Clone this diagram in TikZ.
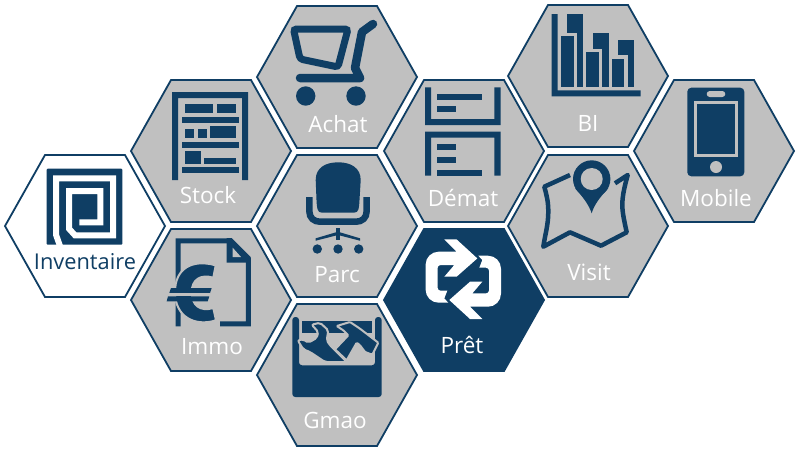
\documentclass[tikz,border=0pt]{standalone}
\usepackage{fontspec}
\setmainfont{Open Sans}
\definecolor{navy}{RGB}{15,62,100}
\definecolor{hopea}{RGB}{192,192,192}
\tikzset{
  kenno/.style={draw=navy,line width=1.8pt,fill=hopea},
  nimi/.style={text=white,inner sep=0pt,font=\fontsize{22.5}{26}\selectfont},
  ikoni/.style={fill=navy},
  viiva/.style={draw=navy,line width=#1},
  kehys/.style={fill=navy,draw=hopea,line width=2pt}
}
\begin{document}
\begin{tikzpicture}[x=1pt,y=-1pt]
\newcommand\alveole[3]{
\draw[kenno,#3,shift={(#1,#2)}] (-80,0) -- (-40,-71) -- (40,-71) -- (80,0) -- (40,71) -- (-40,71) -- cycle;
}
\useasboundingbox (0,0) rectangle (800,451);
\alveole{85}{226}{fill=white}
\alveole{211}{151}{}
\alveole{211}{300}{}
\alveole{337}{77}{}
\alveole{337}{226}{}
\alveole{337}{375}{}
\alveole{464}{151}{}
\alveole{464}{300}{fill=navy}
\alveole{588}{76}{}
\alveole{588}{226}{}
\alveole{714}{151}{}
% Inventaire
\fill[ikoni,rounded corners=1pt] (46.7,168.7) rectangle (122.3,244.7);
\draw[white,line width=6pt,miter limit=4] (60,246) -- (56,234.7) -- (56,178.3) -- (113,178.3) -- (113,235.3) -- (75,235.3) -- (69,228.7) -- (69,191) -- (100.3,191) -- (100.3,222.3) -- (79.3,222.3);
\node[nimi,text=navy,font=\fontsize{21.8}{26}\selectfont] (inventaire) at (85,262) {Inventaire};
% Stock
\fill[ikoni] (172,180) -- (172,92) -- (248,92) -- (248,180) -- (242,180) -- (242,98) -- (178,98) -- (178,180) -- cycle;
\foreach \xa/\ya/\xb/\yb in {185/104/213/113,217/104/236/113,182/117/239/123,185/129/194/138,198/129/207/138,210/126/236/138,182/142/239/148,185/151/201/164,204/158/236/164,182/167/239/173}
  \fill[ikoni] (\xa,\ya) rectangle (\xb,\yb);
\node[nimi] (stock) at (208,195) {Stock};
% Immo
\draw[viiva=5pt] (178.2,326.3) -- (178.2,240.8) -- (229.3,240.8) -- (248.3,259) -- (248.3,323.8) -- (220,323.8);
\fill[ikoni] (226.7,238) -- (231.7,238) -- (250.7,257) -- (250.7,262.7) -- (226.7,262.7) -- cycle;
\fill[hopea] (232.7,247.7) -- (241,257) -- (232.7,257) -- cycle;
\draw[kehys] (215.7,265.3) .. controls (191.7,258.7) and (175,268.7) .. (175,292) .. controls (175,317) and (195,327) .. (216,320.3) -- (213.3,308) .. controls (200,312) and (191.7,305.3) .. (191.7,292) .. controls (191.7,280.3) and (200,273.7) .. (213.3,277.7) -- cycle;
\fill[ikoni] (171,288) -- (211.7,288) -- (210,293) -- (169.3,293) -- cycle;
\fill[ikoni] (168,296.3) -- (209.3,296.3) -- (207.7,301.3) -- (166.7,301.3) -- cycle;
\fill[hopea] (169,293) rectangle (210,296.3);
\node[nimi] (immo) at (212,347) {Immo};
% Achat
\draw[viiva=7pt,rounded corners=3pt] (293.5,29) -- (348,29) -- (338,67) -- (300,59) -- cycle;
\draw[viiva=8.5pt,line cap=round,line join=round] (373,24) -- (362,32) -- (355,68) -- (360,78) -- (300,78);
\fill[ikoni] (305.7,96) circle (9.7) (356,96) circle (9.7);
\node[nimi] (achat) at (338,124) {Achat};
% Parc
\fill[ikoni] (322,212.7) .. controls (317,212.7) and (317,208) .. (316.5,200) -- (315.7,180) .. controls (315.7,168) and (325,162.3) .. (338.2,162.3) .. controls (351,162.3) and (360.7,168) .. (360.7,180) -- (359.5,200) .. controls (359,208) and (359,212.7) .. (354,212.7) -- cycle;
\draw[viiva=6.5pt] (309.3,197) -- (309.3,211) .. controls (309.3,218) and (314,221.7) .. (320,221.7) -- (356,221.7) .. controls (362,221.7) and (366.7,218) .. (366.7,211) -- (366.7,197);
\fill[ikoni] (335.7,228.3) rectangle (340.3,240);
\fill[ikoni] (315.7,240.7) -- (315.7,238.3) -- (338,231.7) -- (360,238.3) -- (360,240.7) -- (338,235) -- cycle;
\foreach \x in {317.3,338,358.7}
  \fill[ikoni] (\x,249) circle (4.7);
\node[nimi] (parc) at (337,275) {Parc};
% Gmao
\fill[ikoni] (302.3,321) rectangle (371.7,332.7);
\fill[ikoni,rounded corners=3pt] (292.3,317) -- (299,317) -- (299,365.3) -- (375,365.3) -- (375,317) -- (381.7,317) -- (381.7,397) -- (292.3,397) -- cycle;
\draw[kehys,rounded corners=2pt] (311.7,324.7) -- (320,322.7) -- (328.3,330.3) -- (326.7,340.3) -- (330,345.3) -- (346.7,362) -- (325,362) -- (310,352) -- (303.3,349.3) -- (297.7,340.3) -- (303.3,339.3) -- (308.3,342.7) -- (316.7,338) -- (318.3,332) -- cycle;
\draw[kehys,rounded corners=1pt] (336.7,326) -- (350,322) -- (360,328.7) -- (378.3,342.7) -- (372.3,354.7) -- (365,352) -- (360,345.3) -- (356.7,342.7) -- (346.7,360.3) -- (335,349.3) -- (348.3,335.3) -- (343.3,330.3) -- cycle;
\node[nimi] (gmao) at (335,420) {Gmao};
% Demat
\fill[ikoni] (425,87.3) -- (431,87.3) -- (431,119) -- (494.3,119) -- (494.3,87.3) -- (500.7,87.3) -- (500.7,125) -- (425,125) -- cycle;
\fill[ikoni] (425,175.7) -- (425,131.7) -- (500.7,131.7) -- (500.7,175.7) -- (494.3,175.7) -- (494.3,137.7) -- (431,137.7) -- (431,175.7) -- cycle;
\foreach \xb/\ya/\yb in {481.7/94/99.7,456.3/106.3/112.3,456.3/144.3/150.3,456.3/157.3/163,481.7/170/175.7}
  \fill[ikoni] (437.3,\ya) rectangle (\xb,\yb);
\node[nimi] (demat) at (463,198) {Démat};
% Pret
\foreach \kulma in {0,180}
  \fill[white,shift={(463.3,279.2)},rotate=\kulma] (-19,-39.8) -- (-6.7,-39.8) -- (14,-20.8) -- (-6.7,-2.5) -- (-19,-2.5) -- (-9,-14.2) [rounded corners=3pt] -- (-25.7,-14.2) -- (-25.7,11.5) [sharp corners] -- (-16,11.5) -- (-19,19.2) -- (-15,23.5) [rounded corners=13pt] -- (-37.7,23.5) -- (-37.7,-27.5) [sharp corners] -- (-6.7,-27.5) -- cycle;
\node[nimi] (pret) at (462,345) {Prêt};
% BI
\fill[ikoni] (551.7,14) -- (557.7,14) -- (557.7,90.3) -- (640.7,90.3) -- (640.7,96.3) -- (551.7,96.3) -- cycle;
\foreach \x/\ya/\yb in {561/14/36.3,586.3/33/52.3,611.7/39.7/58.7}{
  \fill[ikoni] (\x+6.3,\ya) rectangle (\x+22.3,87);
  \fill[hopea] (\x-1,\yb-3.3) rectangle (\x+16,87);
  \fill[ikoni] (\x,\yb) rectangle (\x+12.7,87);
}
\node[nimi] (bi) at (588,123) {BI};
% Visit
\draw[viiva=4.5pt,line join=round] (570,175) -- (544.3,186.7) .. controls (548,200) and (548.3,205) .. (548.3,211.7) .. controls (548.3,225) and (545,235) .. (543.3,246.7) -- (570,232.3) -- (601,245.7) -- (626.7,232.3) .. controls (624,220) and (622.3,212) .. (622.3,205) .. controls (622.3,195) and (625,185) .. (627.7,175) -- (615,183.3);
\fill[ikoni] (591.7,179) circle (18.7);
\fill[ikoni] (575,188.3) -- (608.3,188.3) .. controls (600,197) and (594,205) .. (591.7,213.3) .. controls (589,205) and (583,197) .. (575,188.3) -- cycle;
\fill[hopea] (591.7,179) circle (11);
\node[nimi] (visit) at (589,272) {Visit};
% Mobile
\fill[ikoni,rounded corners=4pt] (687.3,87.7) rectangle (744.3,176.3);
\fill[hopea,rounded corners=3pt] (706.7,91) rectangle (725.3,97);
\draw[draw=hopea,line width=3pt,fill=navy] (695.7,102.2) rectangle (736.8,155.8);
\fill[hopea] (716,167) circle (6);
\node[nimi] (mobile) at (716,198) {Mobile};
\end{tikzpicture}
\end{document}
